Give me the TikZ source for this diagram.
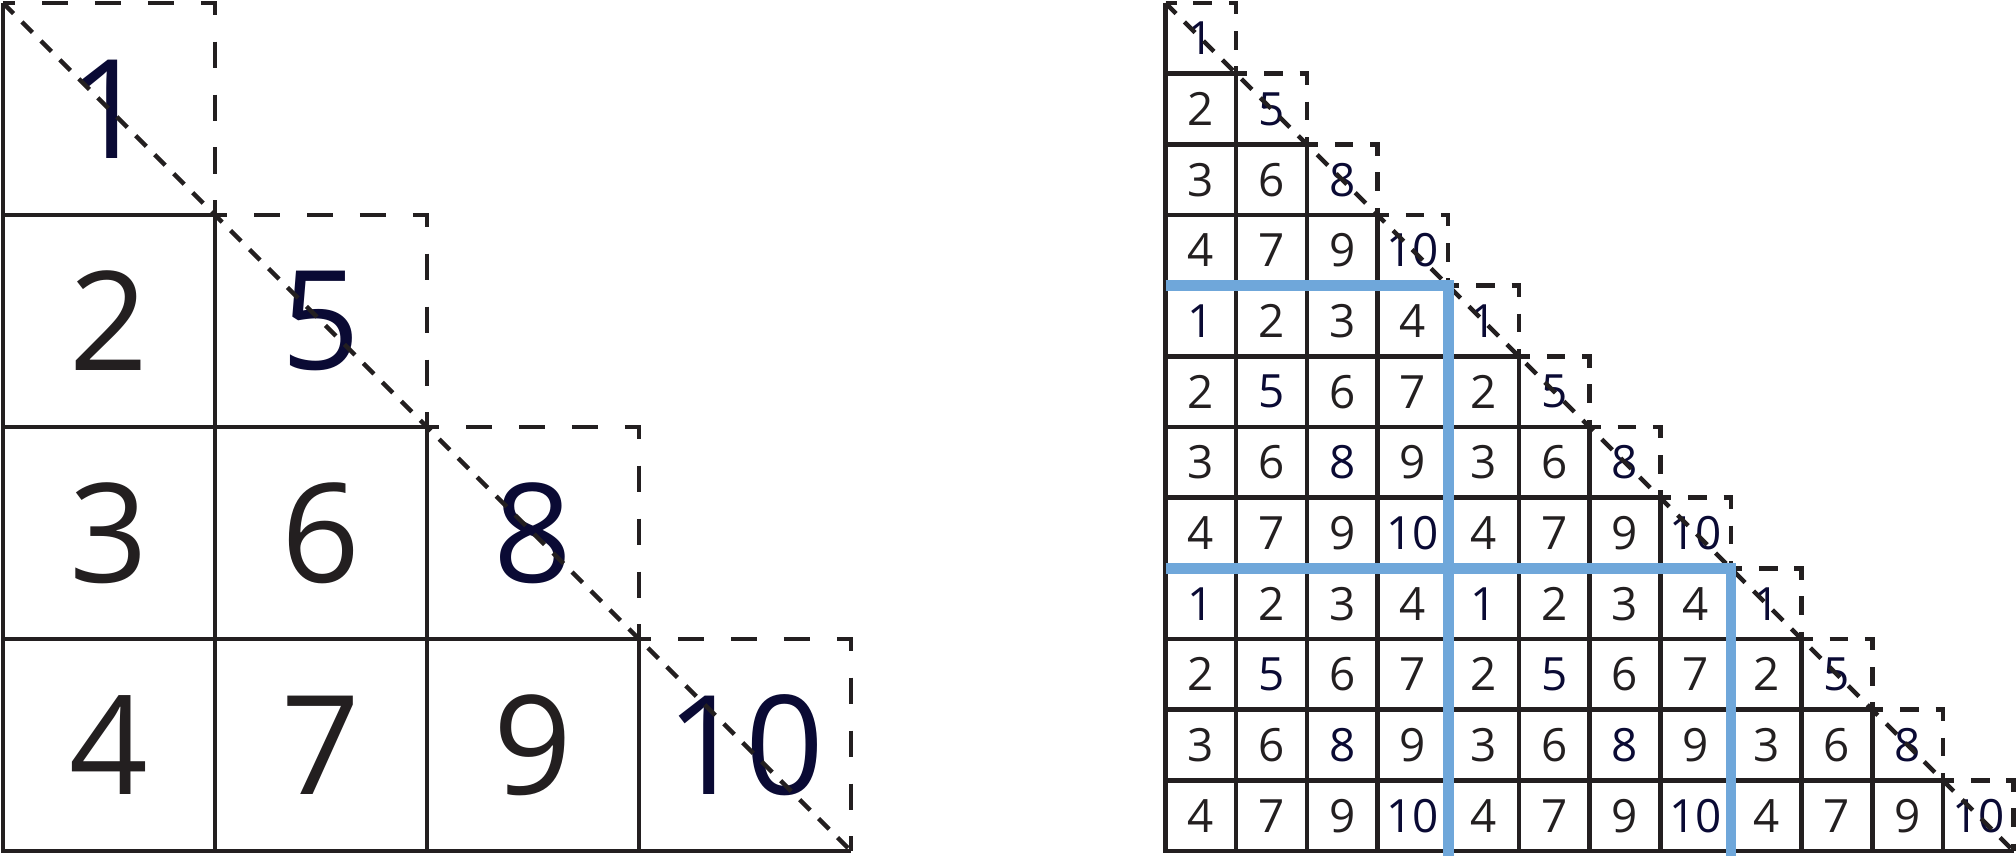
\documentclass[tikz,border=0pt]{standalone}
\usepackage{fontspec}
\setmainfont{Open Sans}
\definecolor{navy}{RGB}{10,10,52}
\definecolor{ink}{RGB}{35,31,32}
\definecolor{band}{RGB}{111,167,218}

\begin{document}
\begin{tikzpicture}[cellline/.style={draw=ink,line width=1.2pt},
  bigdash/.style={draw=ink,line width=1.2pt,dash pattern=on 7pt off 7.2pt,dash phase=3.7pt},
  smalldash/.style={draw=ink,line width=1.2pt,dash pattern=on 5pt off 4.5pt,dash phase=2pt},
  diagline/.style={draw=ink,line width=1.2pt,dash pattern=on 4pt off 3.2pt},
  bignum/.style={font=\fontsize{37}{37}\selectfont,inner sep=0pt},
  smallnum/.style={font=\fontsize{12.3}{12.3}\selectfont,inner sep=0pt},
  blueline/.style={draw=band,line width=2.9pt}]
\useasboundingbox (-0.028,0.028) rectangle (18.99,-8.038);

% left: the 4x4 triangle
\begin{scope}[x=2cm,y=2cm]
\foreach \i in {0,...,3}{
  \foreach \j in {0,...,\i}{
    \pgfmathtruncatemacro\v{{1,5,8,10}[\j]+\i-\j}
    \ifnum\i=\j\def\tc{navy}\else\def\tc{ink}\fi
    \draw[cellline] (\j,-\i) -- (\j,-\i-1) -- (\j+1,-\i-1);
    \ifnum\i=\j
      \draw[bigdash] (\j,-\i) -- (\j+1,-\i) -- (\j+1,-\i-1);
    \fi
    \node[bignum,text=\tc] (L-\i-\j) at (\j+0.5,-\i-0.5) {\v};
  }
}
\coordinate (L-top) at (0,0);
\coordinate (L-end) at (4,-4);
\draw[diagline] (L-top) -- (L-end);
\end{scope}

% right: the 12x12 triangle in 4x4 blocks
\begin{scope}[xshift=10.967cm,x=0.6667cm,y=0.6667cm]
\foreach \r in {0,...,11}{
  \foreach \c in {0,...,\r}{
    \pgfmathtruncatemacro\i{mod(\r,4)}
    \pgfmathtruncatemacro\j{mod(\c,4)}
    \pgfmathtruncatemacro\lo{min(\i,\j)}
    \pgfmathtruncatemacro\v{{1,5,8,10}[\lo]+abs(\i-\j)}
    \ifnum\i=\j\def\tc{navy}\else\def\tc{ink}\fi
    \draw[cellline] (\c,-\r) -- (\c,-\r-1) -- (\c+1,-\r-1);
    \ifnum\r=\c
      \draw[smalldash] (\c,-\r) -- (\c+1,-\r) -- (\c+1,-\r-1);
    \fi
    \node[smallnum,text=\tc] (R-\r-\c) at (\c+0.5,-\r-0.5) {\v};
  }
}
\coordinate (R-top) at (0,0);
\coordinate (R-end) at (12,-12);
\draw[diagline] (R-top) -- (R-end);
\draw[blueline] (0,-4) -- (4,-4) -- (4,-12.1);
\draw[blueline] (0,-8) -- (8,-8) -- (8,-12.1);
\end{scope}
\end{tikzpicture}
\end{document}
